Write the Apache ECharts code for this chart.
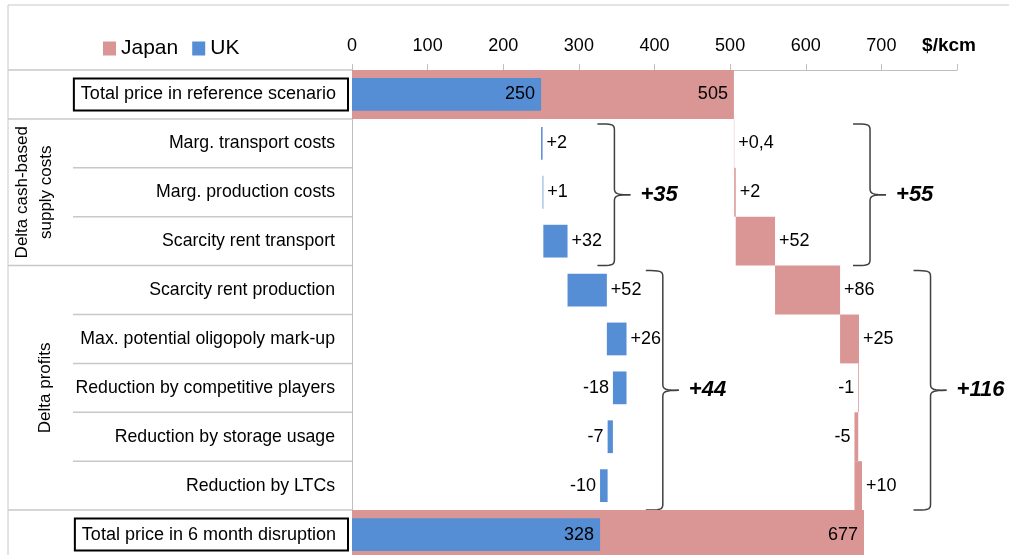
<!DOCTYPE html>
<html>
<head>
<meta charset="utf-8">
<script src="https://cdn.jsdelivr.net/npm/echarts@6/dist/echarts.min.js"></script>
<style>
  html, body { margin: 0; padding: 0; background: #fff; }
  #main { width: 1009px; height: 555px; }
</style>
</head>
<body>
<div id="main"></div>
<script>
var categories = [
    'Total price in reference scenario',
    'Marg. transport costs',
    'Marg. production costs',
    'Scarcity rent transport',
    'Scarcity rent production',
    'Max. potential oligopoly mark-up',
    'Reduction by competitive players',
    'Reduction by storage usage',
    'Reduction by LTCs',
    'Total price in 6 month disruption'
];
var ukStart = 250;
var ukDelta = [2, 1, 32, 52, 26, -18, -7, -10];
var ukTotal = 328;
var jpStart = 505;
var jpDelta = [0.4, 2, 52, 86, 25, -1, -5, 10];
var jpTotal = 677;
var xTicks = [0, 100, 200, 300, 400, 500, 600, 700];
// row groups on the left
var groups = [
    { text: 'Delta cash-based\nsupply costs', from: 1, to: 3, x: 34 },
    { text: 'Delta profits', from: 4, to: 8, x: 45 }
];
// brackets with their (rounded) subtotals, x = value of the vertical stroke
var braces = [
    { from: 1, to: 3, at: 347, text: '+35' },
    { from: 1, to: 3, at: 685, text: '+55' },
    { from: 4, to: 8, at: 411, text: '+44' },
    { from: 4, to: 8, at: 765, text: '+116' }
];

var FONT = "'Liberation Sans', Arial, sans-serif";
var PINK = '#d99694';
var BLUE = '#558ed5';

function waterfall(start, deltas, total) {
    var base = [0], bar = [start], pos = ['insideRight'], txt = [String(start)];
    var cur = start;
    deltas.forEach(function (d) {
        base.push(d >= 0 ? cur : cur + d);
        bar.push(Math.abs(d));
        pos.push(d >= 0 ? 'right' : 'left');
        txt.push((d > 0 ? '+' : '') + String(d).replace('.', ','));
        cur += d;
    });
    base.push(0);
    bar.push(total);
    pos.push('insideRight');
    txt.push(String(total));
    var items = bar.map(function (v, i) {
        return { value: v, label: { position: pos[i], formatter: txt[i], distance: i === 0 || i === bar.length - 1 ? 6 : 4 } };
    });
    return { base: base, items: items };
}

var uk = waterfall(ukStart, ukDelta, ukTotal);
var jp = waterfall(jpStart, jpDelta, jpTotal);

var chart = echarts.init(document.getElementById('main'));

var labelStyle = { show: true, color: '#000', fontSize: 18, fontFamily: FONT };

chart.setOption({
    animation: false,
    textStyle: { fontFamily: FONT },
    legend: {
        data: ['Japan', 'UK'],
        left: 98,
        top: 33,
        icon: 'rect',
        itemWidth: 13,
        itemHeight: 14,
        itemGap: 14,
        textStyle: { fontSize: 21, color: '#000', fontFamily: FONT }
    },
    grid: { left: 352, right: 52, top: 70, height: 489, outerBoundsMode: 'none' },
    xAxis: {
        type: 'value',
        position: 'top',
        min: 0,
        max: 800,
        interval: 100,
        axisLine: { show: true, lineStyle: { color: '#bfbfbf' } },
        axisTick: { show: true, length: 6, lineStyle: { color: '#bfbfbf' } },
        splitLine: { show: false },
        axisLabel: {
            margin: 15,
            fontSize: 18,
            color: '#000',
            fontFamily: FONT,
            formatter: function (v) {
                return xTicks.indexOf(v) >= 0 ? String(v) : '{u|$/kcm}';
            },
            rich: { u: { fontSize: 19, fontWeight: 'bold', color: '#000', padding: [0, 16, 0, 0] } }
        }
    },
    yAxis: [{
        type: 'category',
        inverse: true,
        data: categories,
        axisLine: { show: true, lineStyle: { color: '#bfbfbf' } },
        axisTick: { show: false },
        axisLabel: {
            margin: 4,
            fontFamily: FONT,
            formatter: function (v, i) {
                return (i === 0 || i === categories.length - 1) ? '{b|' + v + '}' : '{n|' + v + '}';
            },
            rich: {
                n: { fontSize: 17.7, color: '#000', padding: [0, 13, 0, 0] },
                b: { fontSize: 18, color: '#000', borderColor: '#000', borderWidth: 2, padding: [7, 12, 7, 7] }
            }
        }
    }, {
        type: 'category',
        inverse: true,
        data: categories,
        show: false
    }],
    series: [{
        name: 'jpBase', type: 'bar', stack: 'jp', yAxisIndex: 0,
        silent: true, itemStyle: { color: 'transparent' },
        barCategoryGap: '0%',
        data: jp.base
    }, {
        name: 'Japan', type: 'bar', stack: 'jp', yAxisIndex: 0,
        itemStyle: { color: PINK },
        barCategoryGap: '0%',
        label: labelStyle,
        data: jp.items
    }, {
        name: 'ukBase', type: 'bar', stack: 'uk', yAxisIndex: 1,
        silent: true, itemStyle: { color: 'transparent' },
        barCategoryGap: '33%',
        data: uk.base
    }, {
        name: 'UK', type: 'bar', stack: 'uk', yAxisIndex: 1,
        itemStyle: { color: BLUE },
        barCategoryGap: '33%',
        label: labelStyle,
        data: uk.items
    }]
});

// left table lines, group titles and brackets
function rowCenter(i) { return chart.convertToPixel({ yAxisIndex: 0 }, categories[i]); }
var rowH = rowCenter(1) - rowCenter(0);
function rowTop(i) { return rowCenter(i) - rowH / 2; }
var axisX = chart.convertToPixel({ xAxisIndex: 0 }, 0);
var gray = '#c8c8c8';
var g = [];

g.push({ type: 'line', shape: { x1: 8, y1: 5, x2: 1009, y2: 5 }, style: { stroke: gray, lineWidth: 1 } });
g.push({ type: 'line', shape: { x1: 8, y1: 5, x2: 8, y2: 555 }, style: { stroke: gray, lineWidth: 1 } });
[0, 1, 4, 9].forEach(function (i) {
    g.push({ type: 'line', shape: { x1: 8, y1: rowTop(i), x2: axisX, y2: rowTop(i) }, style: { stroke: gray, lineWidth: 1.5 } });
});
[2, 3, 5, 6, 7, 8].forEach(function (i) {
    g.push({ type: 'line', shape: { x1: 73, y1: rowTop(i), x2: axisX, y2: rowTop(i) }, style: { stroke: gray, lineWidth: 1.5 } });
});
groups.forEach(function (gr) {
    var yMid = (rowTop(gr.from) + rowTop(gr.to) + rowH) / 2;
    g.push({
        type: 'text', x: gr.x, y: yMid, rotation: Math.PI / 2,
        style: { text: gr.text, fontSize: 17, fontFamily: FONT, fill: '#000', align: 'center', verticalAlign: 'middle', lineHeight: 24 }
    });
});

// sample a cubic bezier into points
function cubic(p0, p1, p2, p3) {
    var pts = [];
    for (var k = 0; k <= 8; k++) {
        var t = k / 8, u = 1 - t;
        pts.push([
            u * u * u * p0[0] + 3 * u * u * t * p1[0] + 3 * u * t * t * p2[0] + t * t * t * p3[0],
            u * u * u * p0[1] + 3 * u * u * t * p1[1] + 3 * u * t * t * p2[1] + t * t * t * p3[1]
        ]);
    }
    return pts;
}
braces.forEach(function (b) {
    var xv = chart.convertToPixel({ xAxisIndex: 0 }, b.at);
    var xl = xv - 17, xt = xv + 16;
    var yt = rowTop(b.from) + 5, yb = rowTop(b.to) + rowH;
    var ym = (yt + yb) / 2;
    var upper = [].concat(
        cubic([xl, yt], [xv - 3, yt], [xv, yt], [xv, yt + 6]),
        cubic([xv, ym - 6], [xv, ym - 1], [xv + 3, ym], [xt, ym])
    );
    var lower = [].concat(
        cubic([xt, ym], [xv + 3, ym], [xv, ym + 1], [xv, ym + 6]),
        cubic([xv, yb - 6], [xv, yb], [xv - 3, yb], [xl, yb])
    );
    g.push({ type: 'polyline', shape: { points: upper }, style: { stroke: '#404040', lineWidth: 1.5, fill: null } });
    g.push({ type: 'polyline', shape: { points: lower }, style: { stroke: '#404040', lineWidth: 1.5, fill: null } });
    g.push({
        type: 'text', x: xt + 10, y: ym,
        style: { text: b.text, fontSize: 22, fontWeight: 'bold', fontStyle: 'italic', fontFamily: FONT, fill: '#000', align: 'left', verticalAlign: 'middle' }
    });
});
chart.setOption({ graphic: g });
</script>
</body>
</html>
